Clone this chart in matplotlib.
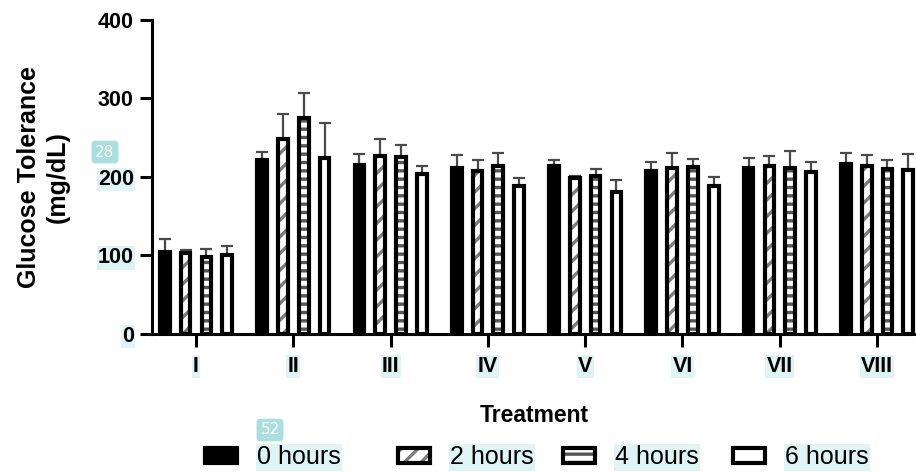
import numpy as np
import matplotlib
matplotlib.use("Agg")
import matplotlib.pyplot as plt
from matplotlib.patches import Patch
from matplotlib.legend_handler import HandlerTuple

# ─── Data ──────────────────────────────────────────────────────────
treatments = ["I", "II", "III", "IV", "V", "VI", "VII", "VIII"]
series = ["0 hours", "2 hours", "4 hours", "6 hours"]

h0 = [104, 222, 215, 211, 214, 208, 211, 217]
h2 = [103, 249, 227, 208, 199, 211, 214, 214]
h4 = [98, 275, 225, 214, 201, 213, 211, 210]
h6 = [101, 224, 204, 188, 181, 189, 206, 209]

e0 = [17, 10, 14, 17, 8, 11, 13, 14]
e2 = [4, 31, 22, 14, 2, 20, 13, 14]
e4 = [10, 32, 16, 17, 9, 10, 22, 12]
e6 = [11, 45, 10, 11, 15, 11, 13, 20]

y_ticks = [0, 100, 200, 300, 400]

plt.rcParams["font.family"] = ["Liberation Sans", "DejaVu Sans"]
plt.rcParams["hatch.linewidth"] = 2.4

HL = "#dff4f4"      # light cyan highlight behind some labels
BADGE = "#a9dfdf"

fig = plt.figure(figsize=(9.16, 4.74), dpi=100)
ax = fig.add_axes([0.1659, 0.2954, 0.8341, 0.6624])

x = np.arange(len(treatments))
pitch = 0.214
width = 0.10
lw = 3.0
styles = [
    dict(face="black", hatch=None, hc=None),
    dict(face="white", hatch="//", hc="#7c7c7c"),
    dict(face="white", hatch="--", hc="#555555"),
    dict(face="white", hatch=None, hc=None),
]
values = [h0, h2, h4, h6]
errors = [e0, e2, e4, e6]

handles = []
for i, (vals, errs, st) in enumerate(zip(values, errors, styles)):
    pos = x + (i - 1.5) * pitch
    ax.errorbar(pos, vals, yerr=[np.zeros(len(errs)), errs], fmt="none",
                ecolor="#4a4a4a", elinewidth=1.6, capsize=4, capthick=1.6,
                zorder=1)
    if st["hatch"]:
        ax.bar(pos, vals, width, color="white", edgecolor=st["hc"],
               hatch=st["hatch"], linewidth=0, zorder=2)
        ax.bar(pos, vals, width, facecolor="none", edgecolor="black",
               linewidth=lw, zorder=3)
        hp = Patch(facecolor="white", edgecolor=st["hc"], hatch=st["hatch"],
                   linewidth=0)
        op = Patch(facecolor="none", edgecolor="black", linewidth=lw)
        handles.append((hp, op))
    else:
        ax.bar(pos, vals, width, color=st["face"], edgecolor="black",
               linewidth=lw, zorder=3)
        handles.append(Patch(facecolor=st["face"], edgecolor="black",
                             linewidth=lw))

ax.set_xlim(-0.453, 7.40)
ax.set_ylim(0, 400)
ax.set_yticks(y_ticks)
ax.set_xticks(x)
ax.set_xticklabels(treatments)

for s in ["top", "right"]:
    ax.spines[s].set_visible(False)
for s in ["left", "bottom"]:
    ax.spines[s].set_linewidth(2.2)

ax.tick_params(axis="both", length=9, width=2.2, direction="out",
               labelsize=15.5)
ax.tick_params(axis="x", pad=7)
ax.tick_params(axis="y", pad=4)
for lab in ax.get_xticklabels() + ax.get_yticklabels():
    lab.set_fontweight("bold")
for lab in ax.get_xticklabels():
    lab.set_bbox(dict(facecolor=HL, edgecolor="none", pad=1))
for lab in ax.get_yticklabels()[:3]:
    lab.set_bbox(dict(facecolor=HL, edgecolor="none", pad=1))

ax.set_ylabel("Glucose Tolerance\n(mg/dL)", fontsize=18, fontweight="bold",
              labelpad=20, linespacing=1.25)
ax.set_xlabel("Treatment", fontsize=16.5, fontweight="bold", labelpad=19)

# legend entries placed one by one, like the original layout
leg_x = [205, 398, 563, 733]
for h, name, lx in zip(handles, series, leg_x):
    leg = fig.legend(handles=[h], labels=[name], loc="center left",
                     bbox_to_anchor=(lx / 916, 1 - 457 / 474),
                     frameon=False, fontsize=18, borderpad=0,
                     borderaxespad=0, handlelength=1.28, handleheight=0.55,
                     handletextpad=0.8,
                     handler_map={tuple: HandlerTuple(ndivide=1)})
    for t in leg.get_texts():
        t.set_bbox(dict(facecolor=HL, edgecolor="none", pad=1))

# small badges
fig.text(105 / 916, 1 - 152 / 474, "28", color="white", fontsize=11,
         family="DejaVu Sans", ha="center", va="center",
         bbox=dict(boxstyle="round,pad=0.25", facecolor=BADGE,
                   edgecolor="none"))
fig.text(270 / 916, 1 - 430 / 474, "52", color="white", fontsize=11,
         family="DejaVu Sans", ha="center", va="center",
         bbox=dict(boxstyle="round,pad=0.25", facecolor=BADGE,
                   edgecolor="none"))

fig.savefig("out.png", dpi=100)
